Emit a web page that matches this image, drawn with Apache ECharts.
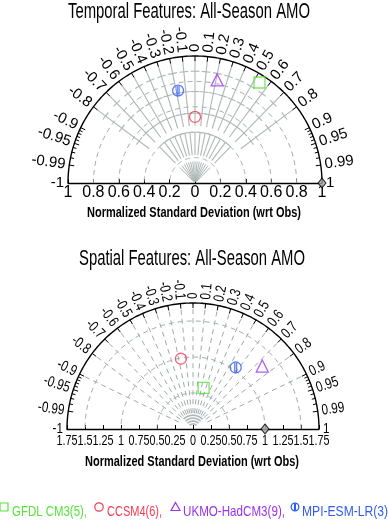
<!DOCTYPE html>
<html>
<head>
<meta charset="utf-8">
<script src="https://cdn.jsdelivr.net/npm/echarts@6.0.0/dist/echarts.min.js"></script>
<style>html,body{margin:0;padding:0;background:#fff;}#chart{width:388px;height:523px;}</style>
</head>
<body>
<div id="chart"></div>
<script>
// ---------------- data ----------------
const models = ['GFDL CM3(5)', 'CCSM4(6)', 'UKMO-HadCM3(9)', 'MPI-ESM-LR(3)'];
const modelColors = ['#55e43a', '#f23a52', '#9a32ee', '#2f5cf2'];
// temporal panel: normalized std and correlation
const temporalStd  = [0.94, 0.52, 0.83, 0.74];
const temporalCorr = [0.54, 0.00, 0.21, -0.18];
// spatial panel
const spatialStd  = [0.59, 0.99, 1.30, 1.04];
const spatialCorr = [0.25, -0.17, 0.74, 0.57];
const refStd = 1.0, refCorr = 1.0;
const corrLabels = [-1,-0.99,-0.95,-0.9,-0.8,-0.7,-0.6,-0.5,-0.4,-0.3,-0.2,-0.1,0,0.1,0.2,0.3,0.4,0.5,0.6,0.7,0.8,0.9,0.95,0.99,1];
const corrMinor = [-0.98,-0.97,-0.96,-0.94,-0.93,-0.92,-0.91,0.91,0.92,0.93,0.94,0.96,0.97,0.98];
const spatialStdTicks = [-1.75,-1.5,-1.25,-1,-0.75,-0.5,-0.25,0,0.25,0.5,0.75,1,1.25,1.5,1.75];
const titles = ['Temporal Features: All-Season AMO', 'Spatial Features: All-Season AMO'];
const xName = 'Normalized Standard Deviation (wrt Obs)';

// ---------------- layout ----------------
const panels = [
  {cx:195, cy:183, R:127, max:1},
  {cx:193, cy:429, R:126, max:1.75}
];
const FONT = '"Liberation Sans", Arial, Helvetica, sans-serif';
const mctx = document.createElement('canvas').getContext('2d');
function fit(text, font, w){ mctx.font = font; return w / mctx.measureText(text).width; }
function fmt(v){ return String(+Math.abs(v).toFixed(2)); }
function fmtC(v){ return String(+v.toFixed(2)); }
function toXY(s, c){ const t = Math.acos(c); return [s*Math.cos(t), s*Math.sin(t)]; }

const mpiPath = 'path://M10,0 A10,10 0 1,1 10,20 A10,10 0 1,1 10,0 Z M8.3,0.4 L8.3,19.6 M11.7,0.4 L11.7,19.6';
const shapes = ['rect', 'circle', 'triangle', mpiPath];

const GRAY_D = '#9fa9a9', GRAY_S = '#aeb6b6';

function frame(panelIdx){
  const pm = panels[panelIdx];
  const M = pm.max;
  return function(params, api){
    const ch = [];
    const P = (x,y)=>api.coord([x,y]);
    const polar = (r, tDeg)=>{ const t=tDeg*Math.PI/180; return P(r*Math.cos(t), r*Math.sin(t)); };
    const arc = (r, a0, a1, style)=>{ const pts=[]; for(let a=a0;a<=a1+1e-9;a+=1) pts.push(polar(r,a)); ch.push({type:'polyline', silent:true, shape:{points:pts}, style:Object.assign({fill:null}, style)}); };
    const seg = (p,q,style)=>ch.push({type:'line', silent:true, shape:{x1:p[0],y1:p[1],x2:q[0],y2:q[1]}, style:Object.assign({fill:null}, style)});
    const dashed = {stroke:GRAY_D, lineWidth:1, lineDash:[5,4]};
    const solid = {stroke:GRAY_S, lineWidth:1.1};
    const cdeg = c=>Math.acos(c)*180/Math.PI;
    if(panelIdx===0){
      [0.2,0.4,0.6,0.8].forEach(r=>arc(r,0,180,dashed));
      // radial solid segments with crosses
      for(let k=-8;k<=8;k++){
        const c=k/10, a=cdeg(c), t=a*Math.PI/180;
        seg(polar(0.45,a), polar(0.97,a), solid);
        [0.55,0.72,0.88].forEach(r=>{
          const d=0.035;
          const x=r*Math.cos(t), y=r*Math.sin(t);
          seg(P(x+d*Math.sin(t), y-d*Math.cos(t)), P(x-d*Math.sin(t), y+d*Math.cos(t)), solid);
        });
      }
      // comb
      for(let k=-7;k<=7;k++){ const a=cdeg(k/10); seg(polar(0.22,a), polar(0.4,a), solid); }
      arc(0.4, cdeg(0.7), cdeg(-0.7), solid);
      // fan
      for(let k=-7;k<=7;k++){ const a=cdeg(k/10); seg(polar(0.015,a), polar(0.17,a), {stroke:GRAY_S, lineWidth:1}); }
    } else {
      [0.5,1.0,1.5].forEach(r=>arc(r,0,180,dashed));
      [-0.9,-0.8,-0.7,-0.6,-0.5,-0.4,-0.3,-0.2,-0.1,0,0.1,0.2,0.3,0.4,0.5,0.6,0.7,0.8,0.9].forEach(c=>{
        const a=cdeg(c); seg(polar(0.22,a), polar(M,a), dashed);
      });
      [0.07,0.11,0.15,0.19].forEach(r=>arc(r, cdeg(0.7), cdeg(-0.7), {stroke:GRAY_S, lineWidth:1.6}));
    }
    // outer arc
    arc(M, 0, 180, {stroke:'#000', lineWidth:1.4});
    // ticks on outer arc
    const tick = (c, len)=>{ const t=Math.acos(c); const p=P(M*Math.cos(t), M*Math.sin(t)); const dx=Math.cos(t), dy=-Math.sin(t); seg(p, [p[0]-len*dx, p[1]-len*dy], {stroke:'#000', lineWidth:1}); };
    corrLabels.forEach(c=>{ if(Math.abs(c)<1) tick(c,5); });
    corrMinor.forEach(c=>tick(c,3.5));
    return {type:'group', children:ch};
  };
}

function corrLabelItem(panelIdx, font, sx){
  const M = panels[panelIdx].max;
  return function(params, api){
    const c = api.value(0);
    const t = Math.acos(c);
    const p = api.coord([M*Math.cos(t), M*Math.sin(t)]);
    const dx = Math.cos(t), dy = -Math.sin(t);
    const off = 4;
    const neg = c < 0;
    return {type:'text', x:p[0]+off*dx, y:p[1]+off*dy, rotation: neg ? t-Math.PI : t, scaleX:sx, silent:true,
      style:{text:fmtC(c), font:font, fill:'#000', align: neg?'right':'left', verticalAlign:'middle'}};
  };
}

function xLabelItem(font, sx){
  return function(params, api){
    const v = api.value(0);
    const p = api.coord([v, 0]);
    return {type:'text', x:p[0], y:p[1]+4, scaleX:sx, silent:true,
      style:{text:fmt(v), font:font, fill:'#000', align:'center', verticalAlign:'top'}};
  };
}

const grids = panels.map(pm=>({left:pm.cx-pm.R, top:pm.cy-pm.R, width:2*pm.R, height:pm.R, containLabel:false}));
const xAxes = [
  {gridIndex:0, type:'value', min:-1, max:1, interval:0.2,
   axisLine:{lineStyle:{color:'#000', width:1.3}}, axisTick:{inside:true, length:4, lineStyle:{color:'#000'}},
   splitLine:{show:false},
   axisLabel:{fontSize:16, fontFamily:FONT, color:'#000', margin:2, formatter:v=>fmt(v)}},
  {gridIndex:1, type:'value', min:-1.75, max:1.75, interval:0.25,
   axisLine:{lineStyle:{color:'#000', width:1.3}}, axisTick:{inside:true, length:4, lineStyle:{color:'#000'}},
   splitLine:{show:false}, axisLabel:{show:false}}
];
const yAxes = [
  {gridIndex:0, type:'value', min:0, max:1, show:false},
  {gridIndex:1, type:'value', min:0, max:1.75, show:false}
];

const series = [];
[0,1].forEach(i=>{
  series.push({type:'custom', name:'frame'+i, xAxisIndex:i, yAxisIndex:i, clip:false, silent:true, z:1,
    data:[[0,0]], encode:{x:0,y:1}, renderItem:frame(i)});
  series.push({type:'custom', name:'corr'+i, xAxisIndex:i, yAxisIndex:i, clip:false, silent:true, z:2,
    data:corrLabels.map(c=>[c,0]), encode:{x:0,y:1},
    renderItem: i===0 ? corrLabelItem(0, '15px '+FONT, 1) : corrLabelItem(1, '15px '+FONT, 0.78)});
});
series.push({type:'custom', name:'xlab1', xAxisIndex:1, yAxisIndex:1, clip:false, silent:true,
  data:spatialStdTicks.map(v=>[v,0]), encode:{x:0,y:1}, renderItem:xLabelItem('15px '+FONT, 0.72)});

const stds = [temporalStd, spatialStd], corrs = [temporalCorr, spatialCorr];
[0,1].forEach(i=>{
  models.forEach((m, k)=>{
    series.push({type:'scatter', name:m, xAxisIndex:i, yAxisIndex:i, z:5, silent:true,
      symbol:shapes[k], symbolSize: k===2 ? 12 : 11,
      itemStyle:{color:'rgba(0,0,0,0)', borderColor:modelColors[k], borderWidth:1.3},
      data:[toXY(stds[i][k], corrs[i][k])]});
  });
  series.push({type:'scatter', name:'Obs', xAxisIndex:i, yAxisIndex:i, z:6, silent:true,
    symbol:'diamond', symbolSize:[8,10], itemStyle:{color:'#a8a8a8', borderColor:'#000', borderWidth:1},
    data:[toXY(refStd, refCorr)]});
});

// graphic: titles, axis names, legend
const graphic = [];
const titleFont = '22px '+FONT;
graphic.push({type:'text', x:189, y:12, scaleX:fit(titles[0], titleFont, 242), style:{text:titles[0], font:titleFont, fill:'#000', align:'center', verticalAlign:'middle'}});
graphic.push({type:'text', x:192, y:259, scaleX:fit(titles[1], titleFont, 226), style:{text:titles[1], font:titleFont, fill:'#000', align:'center', verticalAlign:'middle'}});
const nameFont = 'bold 15px '+FONT;
graphic.push({type:'text', x:194, y:213, scaleX:fit(xName, nameFont, 214), style:{text:xName, font:nameFont, fill:'#000', align:'center', verticalAlign:'middle'}});
graphic.push({type:'text', x:192, y:462, scaleX:fit(xName, nameFont, 214), style:{text:xName, font:nameFont, fill:'#000', align:'center', verticalAlign:'middle'}});
// legend
const legX = [[4,12,75],[99,107,55],[175.5,183,102],[295,302,86]];
const legFont = '15px '+FONT;
models.forEach((m,k)=>{
  const [sx, tx, tw] = legX[k];
  const label = m + (k<3 ? ',' : '');
  const sy = 507;
  let shape;
  if(k===0) shape = {type:'rect', shape:{x:sx-4, y:sy-4, width:8, height:8}, style:{fill:null, stroke:modelColors[k], lineWidth:1.2}};
  else if(k===1) shape = {type:'circle', shape:{cx:sx, cy:sy, r:4.2}, style:{fill:null, stroke:modelColors[k], lineWidth:1.2}};
  else if(k===2) shape = {type:'polygon', shape:{points:[[sx,sy-4.5],[sx+4.5,sy+3.5],[sx-4.5,sy+3.5]]}, style:{fill:null, stroke:modelColors[k], lineWidth:1.2}};
  else shape = {type:'group', children:[
    {type:'circle', shape:{cx:sx, cy:sy, r:3.8}, style:{fill:null, stroke:modelColors[k], lineWidth:1.3}},
    {type:'rect', shape:{x:sx-1, y:sy-3.8, width:2, height:7.6}, style:{fill:modelColors[k]}}]};
  graphic.push(shape);
  graphic.push({type:'text', x:tx, y:511.5, scaleX:fit(label, legFont, tw), style:{text:label, font:legFont, fill:modelColors[k], align:'left', verticalAlign:'middle'}});
});

const chart = echarts.init(document.getElementById('chart'), null, {renderer:'canvas'});
chart.setOption({
  animation:false,
  backgroundColor:'#fff',
  grid:grids, xAxis:xAxes, yAxis:yAxes, series:series, graphic:graphic
});
</script>
</body>
</html>
